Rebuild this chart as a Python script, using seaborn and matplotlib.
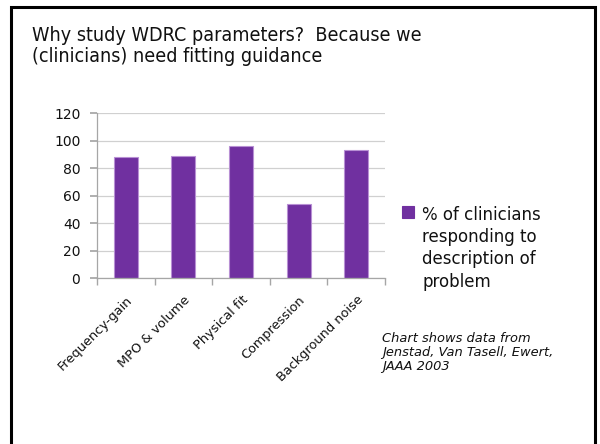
import matplotlib
matplotlib.use("Agg")
import matplotlib.pyplot as plt
import seaborn as sns
import pandas as pd
from matplotlib.patches import Rectangle

categories = ["Frequency-gain", "MPO & volume", "Physical fit", "Compression", "Background noise"]
values = [88, 89, 96, 54, 93]
series_name = "% of clinicians\nresponding to\ndescription of\nproblem"
y_ticks = [0, 20, 40, 60, 80, 100, 120]

df = pd.DataFrame({"category": categories, "pct": values, "series": series_name})

sns.set_theme(style="white")
plt.rcParams["font.family"] = ["DejaVu Sans"]

fig = plt.figure(figsize=(6.0, 4.44), dpi=100)
fig.patch.set_facecolor("white")

# slide frame
fig.add_artist(Rectangle((11 / 600, -0.05), (595 - 11) / 600, 1.05 - 7 / 444,
                         transform=fig.transFigure, fill=False,
                         edgecolor="black", linewidth=2.2))

fig.text(32 / 600, 1 - 26 / 444,
         "Why study WDRC parameters?  Because we\n(clinicians) need fitting guidance",
         ha="left", va="top", fontsize=14.1, fontstretch="condensed",
         color="#111111", linespacing=1.15)

ax = fig.add_axes([97 / 600, 1 - 278 / 444, (385 - 97) / 600, (278 - 113) / 444])
sns.barplot(data=df, x="category", y="pct", hue="series", palette=["#7030A0"],
            saturation=1, width=0.42, edgecolor="#B890D4", linewidth=0.8,
            ax=ax, legend=True)

ax.set_ylim(0, 120)
ax.set_yticks(y_ticks)
ax.set_xlim(-0.5, len(categories) - 0.5)
ax.yaxis.grid(True, color="#D0D0D0", linewidth=0.9)
ax.set_axisbelow(True)
ax.set_xlabel("")
ax.set_ylabel("")
for side in ["top", "right"]:
    ax.spines[side].set_visible(False)
for side in ["left", "bottom"]:
    ax.spines[side].set_color("#A6A6A6")
    ax.spines[side].set_linewidth(0.9)

ax.tick_params(axis="y", which="major", direction="out", length=5, color="#A6A6A6",
               labelsize=10, labelcolor="#111111", pad=7, left=True)
ax.set_xticks(range(len(categories)))
ax.set_xticklabels(categories, rotation=45, ha="right", rotation_mode="anchor",
                   fontsize=9.3, color="#111111")
ax.tick_params(axis="x", which="major", length=0, pad=11)
# ticks at category boundaries
ax.set_xticks([i - 0.5 for i in range(len(categories) + 1)], minor=True)
ax.tick_params(axis="x", which="minor", direction="out", length=5, color="#A6A6A6", bottom=True)

sns.move_legend(ax, loc="upper left", bbox_to_anchor=(402 / 600, 1 - 206 / 444),
                bbox_transform=fig.transFigure, frameon=False, title=None,
                fontsize=12, handlelength=0.7, handleheight=0.7, handletextpad=0.5,
                borderaxespad=0, borderpad=0)
leg = ax.get_legend()
for t in leg.get_texts():
    t.set_linespacing(1.3)
    t.set_color("#111111")
for h in leg.legend_handles:
    h.set_edgecolor("#7030A0")
# put the swatch beside the first line of the entry text
for column in leg._legend_handle_box.get_children():
    for item in column.get_children():
        item.align = "top"

fig.text(382 / 600, 1 - 332 / 444,
         "Chart shows data from\nJenstad, Van Tasell, Ewert,\nJAAA 2003",
         ha="left", va="top", fontsize=9.4, style="italic", color="#111111",
         linespacing=1.12)

fig.savefig("out.png", dpi=100, facecolor="white")
